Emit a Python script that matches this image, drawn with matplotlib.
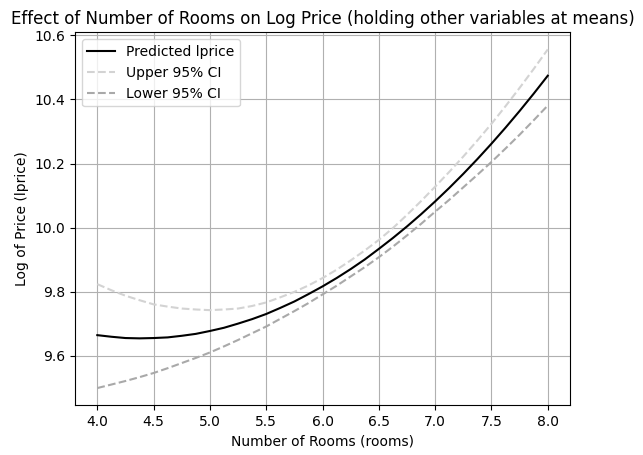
import matplotlib
matplotlib.use("Agg")
import matplotlib.pyplot as plt

# values
rooms = [4.0, 4.125, 4.25, 4.375, 4.5, 4.625, 4.75, 4.875, 5.0,
         5.125, 5.25, 5.375, 5.5, 5.625, 5.75, 5.875, 6.0,
         6.125, 6.25, 6.375, 6.5, 6.625, 6.75, 6.875, 7.0,
         7.125, 7.25, 7.375, 7.5, 7.625, 7.75, 7.875, 8.0]
pred = [9.665, 9.660, 9.656, 9.655, 9.656, 9.658, 9.663, 9.669, 9.678,
        9.688, 9.701, 9.715, 9.731, 9.750, 9.770, 9.793, 9.817,
        9.843, 9.871, 9.901, 9.934, 9.968, 10.004, 10.042, 10.082,
        10.124, 10.168, 10.214, 10.262, 10.312, 10.364, 10.418, 10.474]
upper = [9.824, 9.805, 9.788, 9.774, 9.761, 9.754, 9.748, 9.745, 9.743,
         9.745, 9.748, 9.756, 9.767, 9.783, 9.800, 9.820, 9.843,
         9.869, 9.898, 9.929, 9.962, 9.999, 10.040, 10.083, 10.128,
         10.174, 10.222, 10.272, 10.324, 10.379, 10.436, 10.495, 10.556]
lower = [9.500, 9.511, 9.522, 9.534, 9.547, 9.562, 9.578, 9.594, 9.611,
         9.630, 9.650, 9.671, 9.692, 9.716, 9.740, 9.765, 9.792,
         9.819, 9.848, 9.877, 9.908, 9.941, 9.976, 10.012, 10.050,
         10.087, 10.126, 10.165, 10.205, 10.247, 10.290, 10.335, 10.381]

fig = plt.figure(figsize=(6.43, 4.55), dpi=100)
fig.subplots_adjust(left=0.1163, right=0.8869, top=0.9286, bottom=0.1099)
ax = fig.add_subplot(111)

ax.plot(rooms, pred, color="black", label="Predicted lprice")
ax.plot(rooms, upper, color="lightgray", linestyle="--", label="Upper 95% CI")
ax.plot(rooms, lower, color="darkgray", linestyle="--", label="Lower 95% CI")

ax.set_title("Effect of Number of Rooms on Log Price (holding other variables at means)")
ax.set_xlabel("Number of Rooms (rooms)")
ax.set_ylabel("Log of Price (lprice)")
ax.legend(loc="upper left")
ax.grid(True)

fig.savefig("out.png", dpi=100)
